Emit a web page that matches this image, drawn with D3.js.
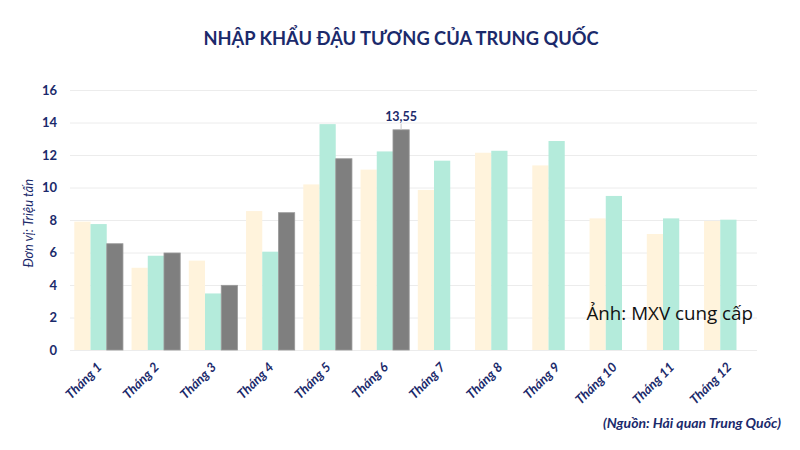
<!DOCTYPE html>
<html>
<head>
<meta charset="utf-8">
<title>Nhập khẩu đậu tương</title>
<script src="https://d3js.org/d3.v7.min.js"></script>
<style>
  body { margin: 0; background: #ffffff; }
  svg { display: block; }
</style>
</head>
<body>
<svg id="chart" width="800" height="450"></svg>
<script>
// du lieu doc tu hinh (trieu tan)
var months = ["Tháng 1", "Tháng 2", "Tháng 3", "Tháng 4", "Tháng 5", "Tháng 6",
              "Tháng 7", "Tháng 8", "Tháng 9", "Tháng 10", "Tháng 11", "Tháng 12"];
var series1 = [7.9, 5.06, 5.5, 8.55, 10.19, 11.1, 9.85, 12.14, 11.36, 8.1, 7.14, 7.94];
var series2 = [7.75, 5.8, 3.48, 6.05, 13.9, 12.22, 11.65, 12.26, 12.86, 9.48, 8.1, 8.02];
var series3 = [6.54, 5.97, 3.98, 8.45, 11.77, 13.55];
var yTicks = [0, 2, 4, 6, 8, 10, 12, 14, 16];
var seriesColors = ["#fff3dc", "#b4ebdb", "#7f7f7f"];

var navy = "#1b2a6b";
var svg = d3.select("#chart");

var margin = {top: 90, right: 43, bottom: 100, left: 70};
var width = 800, height = 450;

var x0 = d3.scaleBand()
    .domain(months)
    .range([margin.left, width - margin.right])
    .paddingInner(0.15)
    .paddingOuter(0.075);

var x1 = d3.scaleBand()
    .domain([0, 1, 2])
    .range([0, x0.bandwidth()]);

var y = d3.scaleLinear()
    .domain([0, 16])
    .range([height - margin.bottom, margin.top]);

// tieu de
svg.append("text")
    .attr("x", 401)
    .attr("y", 45)
    .attr("text-anchor", "middle")
    .style("font-family", "Lato, 'Open Sans', sans-serif")
    .style("font-weight", "bold")
    .style("font-size", "18.3px")
    .style("fill", navy)
    .text("NHẬP KHẨU ĐẬU TƯƠNG CỦA TRUNG QUỐC");

// luoi + truc y
var yAxis = svg.append("g")
    .attr("transform", "translate(" + margin.left + ",0)")
    .call(d3.axisLeft(y).tickValues(yTicks).tickSize(-(width - margin.left - margin.right)).tickPadding(13));
yAxis.select(".domain").remove();
yAxis.selectAll(".tick line").attr("stroke", "#ececec").attr("stroke-width", 1);
yAxis.selectAll(".tick text")
    .style("font-family", "Lato, sans-serif")
    .style("font-weight", "bold")
    .style("font-size", "13px")
    .style("fill", navy);

svg.append("text")
    .attr("transform", "translate(33," + y(7.8) + ") rotate(-90)")
    .attr("text-anchor", "middle")
    .style("font-family", "Lato, sans-serif")
    .style("font-style", "italic")
    .style("font-size", "13px")
    .style("fill", navy)
    .text("Đơn vị: Triệu tấn");

// cot
var allSeries = [series1, series2, series3];
var groups = svg.append("g").selectAll("g")
    .data(months)
    .join("g")
    .attr("transform", function(d) { return "translate(" + x0(d) + ",0)"; });

groups.selectAll("rect")
    .data(function(d, i) {
        return allSeries.map(function(s, k) { return {k: k, v: s[i]}; })
            .filter(function(e) { return e.v !== undefined; });
    })
    .join("rect")
    .attr("x", function(d) { return x1(d.k); })
    .attr("width", x1.bandwidth())
    .attr("y", function(d) { return y(d.v); })
    .attr("height", function(d) { return y(0) - y(d.v); })
    .attr("fill", function(d) { return seriesColors[d.k]; })
    .attr("stroke", function(d) { return d.k == 2 ? "#9a9a9a" : "none"; })
    .attr("stroke-width", 0.8);

// nhan gia tri lon nhat
var labelIdx = 5;
var lx = x0(months[labelIdx]) + x1(2) + x1.bandwidth() / 2;
svg.append("line")
    .attr("x1", lx).attr("x2", lx)
    .attr("y1", y(series3[labelIdx]) - 6)
    .attr("y2", y(series3[labelIdx]))
    .attr("stroke", "#c8c8c8");
svg.append("text")
    .attr("x", lx)
    .attr("y", y(series3[labelIdx]) - 9)
    .attr("text-anchor", "middle")
    .style("font-family", "Lato, sans-serif")
    .style("font-weight", "bold")
    .style("font-size", "12.5px")
    .style("fill", navy)
    .text(String(series3[labelIdx]).replace(".", ","));

// nhan truc x
svg.append("g").selectAll("text")
    .data(months)
    .join("text")
    .attr("transform", function(d) {
        return "translate(" + (x0(d) + x0.bandwidth() / 2 + 4) + "," + (y(0) + 18) + ") rotate(-45)";
    })
    .attr("text-anchor", "end")
    .style("font-family", "Lato, sans-serif")
    .style("font-weight", "bold")
    .style("font-style", "italic")
    .style("font-size", "13px")
    .style("fill", navy)
    .text(function(d) { return d; });

// nguon
svg.append("text")
    .attr("x", 781)
    .attr("y", 428)
    .attr("text-anchor", "end")
    .style("font-family", "Lato, sans-serif")
    .style("font-weight", "bold")
    .style("font-style", "italic")
    .style("font-size", "14px")
    .style("fill", navy)
    .text("(Nguồn: Hải quan Trung Quốc)");

svg.append("text")
    .attr("x", 753)
    .attr("y", 320)
    .attr("text-anchor", "end")
    .style("font-family", "'Open Sans', sans-serif")
    .style("font-size", "18.8px")
    .style("fill", "#111111")
    .text("Ảnh: MXV cung cấp");
</script>
</body>
</html>
